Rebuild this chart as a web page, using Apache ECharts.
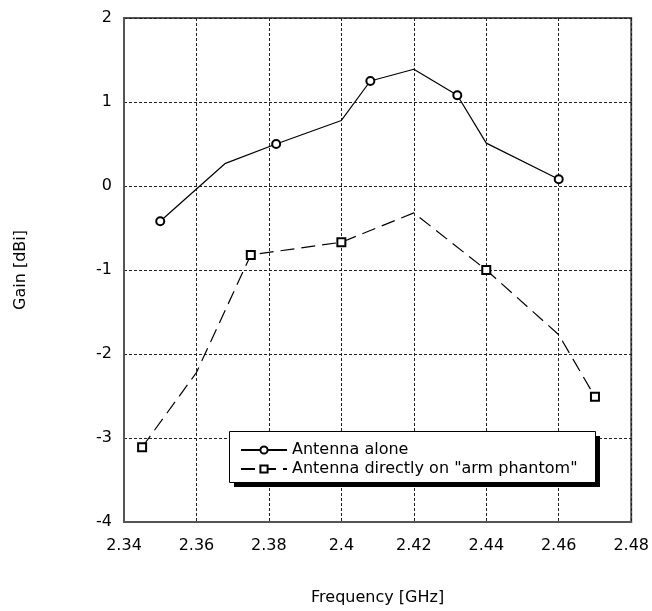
<!DOCTYPE html>
<html lang="en">
	<head>
		<meta charset="UTF-8" />
		<title>Gain vs Frequency</title>
		<style>
			body {
				margin: 0;
				padding: 0;
				background: #fff;
			}
			.chart {
				width: 652px;
				height: 611px;
			}
		</style>
	</head>
	<body>
		<div class="chart"></div>
		<script src="https://cdn.jsdelivr.net/npm/echarts@6/dist/echarts.min.js"></script>
		<script>
			// 数据
			const xTicks = [2.34, 2.36, 2.38, 2.4, 2.42, 2.44, 2.46, 2.48];
			const yTicks = [-4, -3, -2, -1, 0, 1, 2];

			const aloneFreq = [2.35, 2.368, 2.382, 2.4, 2.408, 2.42, 2.432, 2.44, 2.46];
			const aloneGain = [-0.42, 0.27, 0.5, 0.78, 1.25, 1.39, 1.08, 0.51, 0.08];
			const aloneMarked = [1, 0, 1, 0, 1, 0, 1, 0, 1];

			const armFreq = [2.345, 2.36, 2.375, 2.4, 2.42, 2.44, 2.46, 2.47];
			const armGain = [-3.11, -2.22, -0.82, -0.67, -0.32, -1.0, -1.77, -2.51];
			const armMarked = [1, 0, 1, 1, 0, 1, 0, 1];

			const seriesNames = ['Antenna alone', 'Antenna directly on "arm phantom"'];

			const toData = (xs, ys, marked) =>
				xs.map((x, i) => (marked[i] ? [x, ys[i]] : { value: [x, ys[i]], symbol: 'none' }));

			const font = 'DejaVu Sans';
			const container = document.querySelector('.chart');
			const instance = echarts.init(container);
			const option = {
				animation: false,
				backgroundColor: '#fff',
				grid: {
					left: 124,
					right: 19,
					top: 18,
					bottom: 85,
					show: true,
					borderColor: '#555',
					borderWidth: 2
				},
				xAxis: {
					type: 'value',
					min: xTicks[0],
					max: xTicks[xTicks.length - 1],
					interval: 0.02,
					name: 'Frequency [GHz]',
					nameLocation: 'middle',
					nameGap: 68,
					nameTextStyle: { fontFamily: font, fontSize: 16, color: '#000' },
					axisLine: { onZero: false, lineStyle: { color: '#555', width: 2 } },
					axisTick: { show: false },
					axisLabel: {
						fontFamily: font,
						fontSize: 16,
						color: '#000',
						margin: 16,
						formatter: v => String(+v.toFixed(2))
					},
					splitLine: { lineStyle: { color: '#222', type: [3, 2], width: 1 } }
				},
				yAxis: {
					type: 'value',
					min: yTicks[0],
					max: yTicks[yTicks.length - 1],
					interval: 1,
					name: 'Gain [dBi]',
					nameLocation: 'middle',
					nameGap: 95,
					nameTextStyle: { fontFamily: font, fontSize: 16, color: '#000' },
					axisLine: { onZero: false, lineStyle: { color: '#555', width: 2 } },
					axisTick: { show: false },
					axisLabel: { fontFamily: font, fontSize: 16, color: '#000', margin: 12 },
					splitLine: { lineStyle: { color: '#222', type: [3, 2], width: 1 } }
				},
				// 图例背景（带阴影的框）
				graphic: [
					{ type: 'rect', z: 3, shape: { x: 234, y: 436, width: 366, height: 51 }, style: { fill: '#000' } },
					{
						type: 'rect',
						z: 3,
						shape: { x: 229.5, y: 431.5, width: 366, height: 51 },
						style: { fill: '#fff', stroke: '#000', lineWidth: 1 }
					}
				],
				legend: {
					orient: 'vertical',
					left: 240,
					top: 442,
					itemWidth: 46,
					itemHeight: 9,
					itemGap: 3,
					padding: 0,
					data: seriesNames,
					textStyle: { fontFamily: font, fontSize: 16, color: '#000', lineHeight: 16 }
				},
				series: [
					{
						name: seriesNames[0],
						type: 'line',
						data: toData(aloneFreq, aloneGain, aloneMarked),
						symbol: 'emptyCircle',
						symbolSize: 8,
						lineStyle: { color: '#000', width: 1.2 },
						itemStyle: { color: '#000', borderColor: '#000', borderWidth: 1.5 }
					},
					{
						name: seriesNames[1],
						type: 'line',
						data: toData(armFreq, armGain, armMarked),
						symbol: 'emptyRect',
						symbolSize: 8,
						lineStyle: { color: '#000', width: 1.2, type: [14, 7] },
						itemStyle: { color: '#000', borderColor: '#000', borderWidth: 1.5 }
					}
				]
			};
			instance.setOption(option);
		</script>
	</body>
</html>
